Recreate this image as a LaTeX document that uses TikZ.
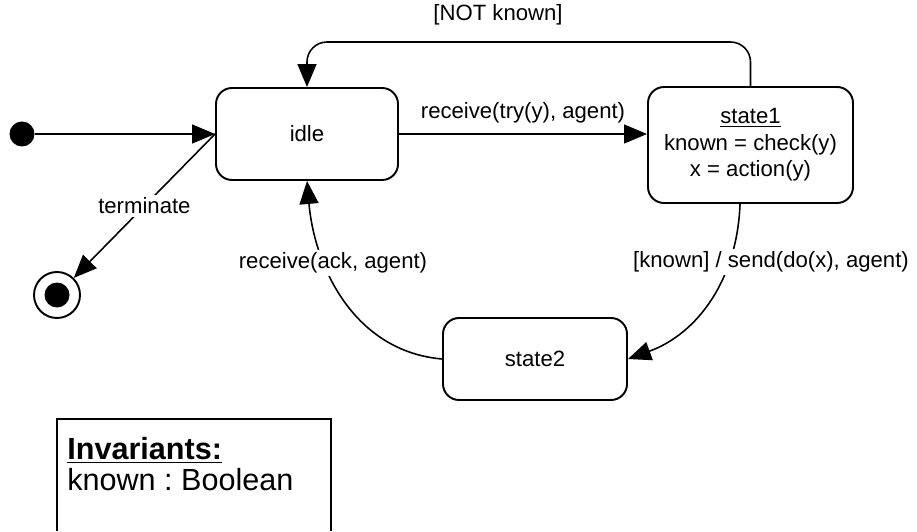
\documentclass[tikz,border=0pt]{standalone}
\usepackage{fontspec}
\setmainfont{Liberation Sans}
\frenchspacing
\usetikzlibrary{arrows.meta,positioning}

\tikzset{state/.style={draw,line width=1.1pt,rounded corners=0.32cm,font=\fontsize{12.6}{15.1}\selectfont,align=center,inner sep=0.1cm},
initial dot/.style={circle,fill=black,minimum size=0.5cm,inner sep=0pt},
final dot/.style={circle,draw,line width=1.1pt,minimum size=0.92cm,inner sep=0pt,path picture={\fill (path picture bounding box.center) circle (0.25cm);}},
trans/.style={line width=0.9pt,-{Triangle[length=0.46cm,width=0.38cm]}},
guard/.style={font=\fontsize{12.6}{15.1}\selectfont,inner sep=0.05cm},
note/.style={font=\fontsize{17.4}{17.4}\selectfont,align=left,anchor=north west,inner sep=0pt}}

\begin{document}
\begin{tikzpicture}
\useasboundingbox (0,0) rectangle (18.34,10.62);

%% Coordinates of nodes.
\coordinate (p0) at (0.44,7.94);
\coordinate (pidle) at (6.14,7.94);
\coordinate (pfinal) at (1.14,4.72);
\coordinate (ps1) at (15.01,7.72);
\coordinate (ps2) at (10.70,3.44);
\coordinate (ptop) at (9.96,9.78);

%% states
\node [initial dot] (init) at (p0) {};
\node [final dot] (final) at (pfinal) {};
\node [state,minimum width=3.64cm,minimum height=1.84cm] (idle) at (pidle) {idle};
\node [state,minimum width=4.1cm,minimum height=2.32cm] (state1) at (ps1) {\underline{state1}\\known = check(y)\\x = action(y)};
\node [state,minimum width=3.68cm,minimum height=1.64cm] (state2) at (ps2) {state2};

%% transitions
\draw [trans] (init) -- (idle.west);
\draw [trans] (idle.west) -- node [guard,fill=white] {terminate} (final);
\draw [trans,line width=0.7pt] (idle.east) -- node [guard,above=0.15cm] {receive(try(y), agent)} (idle.east -| state1.west);
\draw [trans,rounded corners=0.4cm] (state1.north) |- (ptop) -| (idle.north);
\draw [trans] ([xshift=-0.21cm]state1.south) to [out=-92,in=20] (state2.east);
\draw [trans] (state2.west) to [out=175,in=-85] (idle.south);

%% guard labels
\node [guard,above=0.28cm] (notknown) at (ptop) {[NOT known]};
\node [guard,fill=white] (send) at (15.42,5.38) {[known] / send(do(x), agent)};
\node [guard,fill=white] (ack) at (6.66,5.36) {receive(ack, agent)};

%% invariants
\draw [line width=1.1pt] (1.14,0) |- (6.62,2.24) -- (6.62,0);
\node [note] (inv) at (1.34,1.88) {\underline{\textbf{Invariants:}}\\known : Boolean};

\end{tikzpicture}
\end{document}
